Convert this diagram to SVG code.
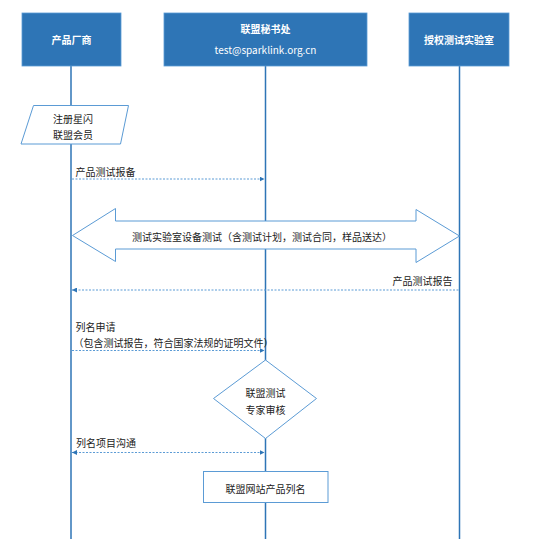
<svg xmlns="http://www.w3.org/2000/svg" width="554" height="553" viewBox="0 0 554 553">
<defs>
<style>
.hdr{fill:#2E75B6;stroke:#5B9BD5;stroke-width:0.8}
.ht{fill:#fff;font-family:"Noto Sans CJK SC","Noto Sans",sans-serif;font-size:10px;font-weight:bold;text-anchor:middle;dominant-baseline:central}
.life{stroke:#2E75B6;stroke-width:1.5;fill:none}
.shape{fill:#fff;stroke:#5B9BD5;stroke-width:1}
.t{fill:#222;font-family:"Noto Sans CJK SC","Noto Sans",sans-serif;font-size:10px;dominant-baseline:central}
.c{text-anchor:middle}
.msg{stroke:#5B9BD5;stroke-width:1;stroke-dasharray:2,1.5;fill:none}
</style>
<marker id="ah" viewBox="0 0 6 6" refX="6" refY="3" markerWidth="5" markerHeight="5" orient="auto-start-reverse" markerUnits="userSpaceOnUse">
<path d="M0,0 L6,3 L0,6 z" fill="#2E75B6"/>
</marker>
</defs>
<rect width="554" height="553" fill="#fff"/>
<g id="lifelines">
<line class="life" x1="71" y1="66" x2="71" y2="539"/>
<line class="life" x1="265.5" y1="66" x2="265.5" y2="539"/>
<line class="life" x1="459.5" y1="66" x2="459.5" y2="539"/>
</g>
<g id="vendor">
<rect class="hdr" x="22" y="13" width="99" height="53"/>
<text class="ht" x="71.5" y="39.5">产品厂商</text>
</g>
<g id="secretariat">
<rect class="hdr" x="164" y="13" width="203" height="53"/>
<text class="ht" x="265.5" y="28.5">联盟秘书处</text>
<text class="ht" x="265.5" y="49.5" style="font-weight:normal">test@sparklink.org.cn</text>
</g>
<g id="lab">
<rect class="hdr" x="409" y="13" width="100" height="53"/>
<text class="ht" x="459" y="39.5">授权测试实验室</text>
</g>
<g id="register">
<polygon class="shape" points="33.5,105.5 128.5,105.5 120.5,144 21,144"/>
<text class="t c" x="73" y="118">注册星闪</text>
<text class="t c" x="73" y="134.5">联盟会员</text>
</g>
<g id="labtest">
<polygon class="shape" points="72.5,235.5 115.5,208.5 115.5,221 416,221 416,209.5 459.5,236 416,262.5 416,249 115.5,249 115.5,261.5"/>
<text class="t c" x="262" y="236.5">测试实验室设备测试（含测试计划，测试合同，样品送达）</text>
</g>
<g id="review">
<polygon class="shape" points="265.5,360 316.5,398.5 265.5,438.5 213.5,398.5"/>
<text class="t c" x="265.5" y="392.5">联盟测试</text>
<text class="t c" x="265.5" y="409">专家审核</text>
</g>
<g id="listing">
<rect class="shape" x="203.5" y="471.5" width="124.5" height="31"/>
<text class="t c" x="265.5" y="488">联盟网站产品列名</text>
</g>
<g id="connectors">
<line class="msg" x1="72" y1="179" x2="264.5" y2="179" marker-end="url(#ah)"/>
<line class="msg" x1="458.5" y1="290" x2="72" y2="290" marker-end="url(#ah)"/>
<line class="msg" x1="72" y1="350.5" x2="264.5" y2="350.5" marker-end="url(#ah)"/>
<line class="msg" x1="72" y1="452.5" x2="264.5" y2="452.5" marker-start="url(#ah)" marker-end="url(#ah)"/>
</g>
<g id="labels">
<text class="t" x="75.5" y="171.5">产品测试报备</text>
<text class="t" x="452.5" y="280" text-anchor="end">产品测试报告</text>
<text class="t" x="75.5" y="326.5">列名申请</text>
<text class="t" x="73.5" y="342.5">（包含测试报告，符合国家法规的证明文件）</text>
<text class="t" x="76" y="442.5">列名项目沟通</text>
</g>
</svg>
